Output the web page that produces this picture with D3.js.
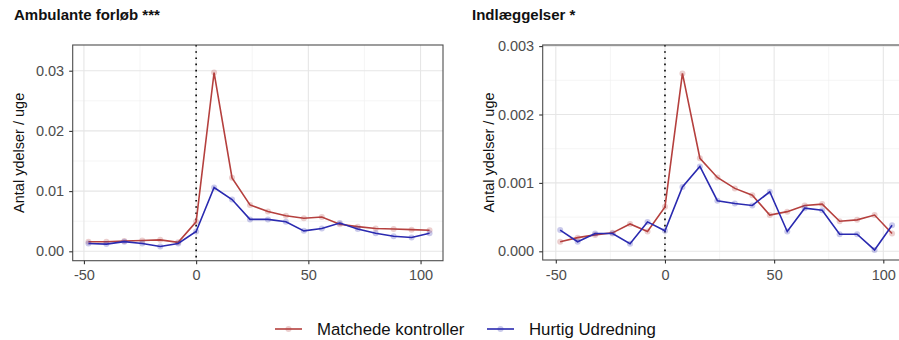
<!DOCTYPE html>
<html>
<head>
<meta charset="utf-8">
<script src="https://cdn.jsdelivr.net/npm/d3@7"></script>
<style>
  body { margin: 0; background: #fff; }
  svg { display: block; font-family: "Liberation Sans", Arial, sans-serif; }
</style>
</head>
<body>
<svg id="chart" width="899" height="340"></svg>
<script>
// weeks relative to start of "Hurtig Udredning"
var weeks = [-48, -40, -32, -24, -16, -8, 0, 8, 16, 24, 32, 40, 48, 56, 64, 72, 80, 88, 96, 104];

// Ambulante forløb
var ambKontrol = [0.0016, 0.0016, 0.0017, 0.0018, 0.0019, 0.0015, 0.0049, 0.0297, 0.0122, 0.0077,
                  0.0066, 0.0059, 0.0055, 0.0057, 0.0045, 0.0041, 0.0038, 0.0037, 0.0036, 0.0035];
var ambHurtig  = [0.0013, 0.0012, 0.0016, 0.0013, 0.0008, 0.0013, 0.0033, 0.0106, 0.0086, 0.0053,
                  0.0053, 0.0049, 0.0034, 0.0038, 0.0047, 0.0037, 0.0030, 0.0025, 0.0023, 0.0030];

// Indlæggelser
var indKontrol = [0.00014, 0.00020, 0.00024, 0.00027, 0.00040, 0.00029, 0.00065, 0.00260, 0.00136, 0.00108,
                  0.00092, 0.00082, 0.00053, 0.00058, 0.00067, 0.00069, 0.00044, 0.00046, 0.00053, 0.00026];
var indHurtig  = [0.00031, 0.00014, 0.00026, 0.00026, 0.00011, 0.00043, 0.00030, 0.00094, 0.00124, 0.00074,
                  0.00070, 0.00067, 0.00087, 0.00029, 0.00063, 0.00060, 0.00025, 0.00025, 0.00002, 0.00038];

var xTicks = [-50, 0, 50, 100];
var xMinor = [-25, 25, 75];
var ambTicks = [0, 0.01, 0.02, 0.03];
var ambMinor = [0.005, 0.015, 0.025];
var indTicks = [0, 0.001, 0.002, 0.003];
var indMinor = [0.0005, 0.0015, 0.0025];

var seriesNames = ["Matchede kontroller", "Hurtig Udredning"];
var colors = {"Matchede kontroller": "#b5403e", "Hurtig Udredning": "#2a2ab0"};

var svg = d3.select("#chart");

function drawPanel(o) {
  var x = d3.scaleLinear().domain(o.xdom).range([o.left, o.right]);
  var y = d3.scaleLinear().domain(o.ydom).range([o.bottom, o.top]);
  var g = svg.append("g");

  g.append("text")
    .attr("x", o.titleX).attr("y", 20)
    .attr("font-size", 15).attr("font-weight", "bold").attr("fill", "#111")
    .text(o.title);

  var clipId = "clip" + o.id;
  svg.append("clipPath").attr("id", clipId)
    .append("rect").attr("x", o.left).attr("y", o.top)
    .attr("width", o.right - o.left).attr("height", o.bottom - o.top);

  var panel = g.append("g").attr("clip-path", "url(#" + clipId + ")");

  // grid
  panel.selectAll(".ymin").data(o.yMinor).enter().append("line")
    .attr("x1", o.left).attr("x2", o.right)
    .attr("y1", d => y(d)).attr("y2", d => y(d))
    .attr("stroke", "#f0f0f0").attr("stroke-width", 0.7);
  panel.selectAll(".xmin").data(xMinor).enter().append("line")
    .attr("y1", o.top).attr("y2", o.bottom)
    .attr("x1", d => x(d)).attr("x2", d => x(d))
    .attr("stroke", "#f0f0f0").attr("stroke-width", 0.7);
  panel.selectAll(".ymaj").data(o.yTicks).enter().append("line")
    .attr("x1", o.left).attr("x2", o.right)
    .attr("y1", d => y(d)).attr("y2", d => y(d))
    .attr("stroke", "#e6e6e6").attr("stroke-width", 1.1);
  panel.selectAll(".xmaj").data(xTicks).enter().append("line")
    .attr("y1", o.top).attr("y2", o.bottom)
    .attr("x1", d => x(d)).attr("x2", d => x(d))
    .attr("stroke", "#e6e6e6").attr("stroke-width", 1.1);

  // dotted line at week 0
  panel.append("line")
    .attr("x1", x(0)).attr("x2", x(0)).attr("y1", o.top).attr("y2", o.bottom)
    .attr("stroke", "#000").attr("stroke-width", 1.6)
    .attr("stroke-dasharray", "1.6,4.6");

  var line = d3.line().x(d => x(d[0])).y(d => y(d[1]));
  o.series.forEach(function (s) {
    var pts = weeks.map((w, i) => [w, s.values[i]]);
    panel.append("path").datum(pts)
      .attr("d", line).attr("fill", "none")
      .attr("stroke", colors[s.name]).attr("stroke-width", 1.6);
    panel.selectAll(null).data(pts).enter().append("circle")
      .attr("cx", d => x(d[0])).attr("cy", d => y(d[1])).attr("r", 3)
      .attr("fill", colors[s.name]).attr("fill-opacity", 0.25);
  });

  // border
  g.append("rect")
    .attr("x", o.left).attr("y", o.top)
    .attr("width", o.right - o.left).attr("height", o.bottom - o.top)
    .attr("fill", "none").attr("stroke", "#4d4d4d").attr("stroke-width", 1.1);

  // axes
  var xAxis = d3.axisBottom(x).tickValues(xTicks).tickSize(3.5).tickPadding(6)
    .tickFormat(d3.format("d"));
  var gx = g.append("g").attr("transform", "translate(0," + o.bottom + ")").call(xAxis);
  var yAxis = d3.axisLeft(y).tickValues(o.yTicks).tickSize(3.5).tickPadding(5)
    .tickFormat(d3.format(o.yfmt));
  var gy = g.append("g").attr("transform", "translate(" + o.left + ",0)").call(yAxis);
  [gx, gy].forEach(function (a) {
    a.select(".domain").remove();
    a.selectAll(".tick line").attr("stroke", "#333").attr("stroke-width", 1.1);
    a.selectAll(".tick text").attr("fill", "#4d4d4d").attr("font-size", 14.5)
      .attr("font-family", "Liberation Sans, Arial, sans-serif");
  });
  gx.selectAll(".tick text").text(d => d < 0 ? "-" + Math.abs(d) : d);

  g.append("text")
    .attr("transform", "translate(" + o.yTitleX + "," + ((o.top + o.bottom) / 2) + ") rotate(-90)")
    .attr("text-anchor", "middle").attr("dy", "0.35em")
    .attr("font-size", 14.5).attr("fill", "#111")
    .text("Antal ydelser / uge");
}

drawPanel({
  id: "a", title: "Ambulante forløb ***", titleX: 14,
  left: 72.7, right: 443, top: 45, bottom: 260.7,
  xdom: [-55, 110], ydom: [-0.00156, 0.03427],
  yTicks: ambTicks, yMinor: ambMinor, yfmt: ".2f", yTitleX: 19,
  series: [{name: seriesNames[0], values: ambKontrol}, {name: seriesNames[1], values: ambHurtig}]
});

drawPanel({
  id: "b", title: "Indlæggelser *", titleX: 472,
  left: 542.7, right: 913, top: 45, bottom: 260,
  xdom: [-56, 113.6], ydom: [-0.000127, 0.003016],
  yTicks: indTicks, yMinor: indMinor, yfmt: ".3f", yTitleX: 489,
  series: [{name: seriesNames[0], values: indKontrol}, {name: seriesNames[1], values: indHurtig}]
});

// legend
var legend = svg.append("g").attr("transform", "translate(0,329)");
var legendX = [275, 487];
seriesNames.forEach(function (n, i) {
  var lg = legend.append("g").attr("transform", "translate(" + legendX[i] + ",0)");
  lg.append("line").attr("x1", 0).attr("x2", 27).attr("y1", 0).attr("y2", 0)
    .attr("stroke", colors[n]).attr("stroke-width", 1.6);
  lg.append("circle").attr("cx", 13.5).attr("cy", 0).attr("r", 3)
    .attr("fill", colors[n]).attr("fill-opacity", 0.25);
  lg.append("text").attr("x", 42).attr("dy", "0.35em")
    .attr("font-size", 16.8).attr("fill", "#111").text(n);
});
</script>
</body>
</html>
